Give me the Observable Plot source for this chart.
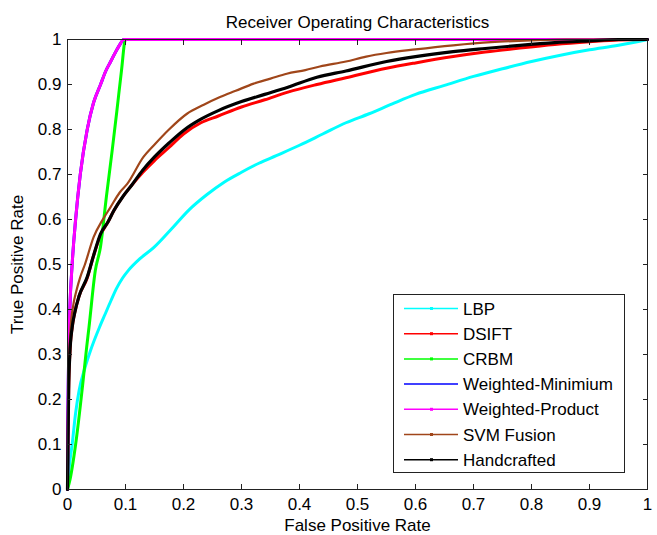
<!DOCTYPE html>
<html><head><meta charset="utf-8">
<script src="https://cdn.jsdelivr.net/npm/d3@7"></script>
<script src="https://cdn.jsdelivr.net/npm/@observablehq/plot@0.6"></script>
<style>
body{margin:0;background:#fff;}
#wrap{position:relative;width:657px;height:535px;font-family:"Liberation Sans",Arial,sans-serif;}
#legend{position:absolute;left:393px;top:294px;width:232px;height:179px;border:1px solid #222;background:#fff;box-sizing:border-box;}
</style></head><body><div id="wrap"></div>
<script>
const chartTitle = "Receiver Operating Characteristics";
const xLabel = "False Positive Rate";
const yLabel = "True Positive Rate";
const xTicks = [0, 0.1, 0.2, 0.3, 0.4, 0.5, 0.6, 0.7, 0.8, 0.9, 1];
const yTicks = [0, 0.1, 0.2, 0.3, 0.4, 0.5, 0.6, 0.7, 0.8, 0.9, 1];
const seriesNames = ["LBP", "DSIFT", "CRBM", "Weighted-Minimium", "Weighted-Product", "SVM Fusion", "Handcrafted"];
const seriesColors = ["#00ffff", "#ff0000", "#00ff00", "#0000ff", "#ff00ff", "#a0461a", "#000000"];

const lbpFpr = [0, 0.003, 0.008, 0.014, 0.02, 0.03, 0.04, 0.055, 0.065, 0.075, 0.085, 0.095, 0.105, 0.125, 0.149, 0.18, 0.21, 0.24, 0.27, 0.3, 0.33, 0.36, 0.4, 0.44, 0.48, 0.52, 0.56, 0.6, 0.65, 0.7, 0.75, 0.8, 0.85, 0.9, 0.95, 1.0];
const lbpTpr = [0, 0.05, 0.1, 0.17, 0.22, 0.27, 0.31, 0.36, 0.39, 0.42, 0.448, 0.47, 0.487, 0.513, 0.538, 0.58, 0.622, 0.655, 0.683, 0.705, 0.725, 0.742, 0.765, 0.79, 0.815, 0.835, 0.857, 0.878, 0.898, 0.918, 0.935, 0.951, 0.965, 0.977, 0.987, 1.0];

const dsiftFpr = [0, 0.001, 0.002, 0.004, 0.008, 0.012, 0.02, 0.034, 0.045, 0.057, 0.07, 0.08, 0.095, 0.11, 0.13, 0.15, 0.175, 0.2, 0.23, 0.26, 0.3, 0.34, 0.38, 0.43, 0.48, 0.55, 0.6, 0.665, 0.72, 0.78, 0.84, 0.9, 0.95, 1];
const dsiftTpr = [0, 0.12, 0.22, 0.3, 0.36, 0.39, 0.43, 0.47, 0.52, 0.565, 0.595, 0.62, 0.65, 0.675, 0.705, 0.731, 0.76, 0.79, 0.815, 0.83, 0.85, 0.866, 0.883, 0.9, 0.915, 0.936, 0.948, 0.962, 0.972, 0.981, 0.989, 0.995, 0.999, 1];

const crbmFpr = [0, 0.004, 0.014, 0.026, 0.033, 0.037, 0.048, 0.057, 0.067, 0.077, 0.085, 0.093, 0.1, 1];
const crbmTpr = [0, 0.02, 0.1, 0.231, 0.316, 0.36, 0.487, 0.54, 0.65, 0.753, 0.84, 0.93, 1, 1];

const wminFpr = [0, 0.0005, 0.001, 0.002, 0.004, 0.008, 0.014, 0.022, 0.034, 0.045, 0.057, 0.066, 0.074, 0.082, 0.09, 0.097, 1];
const wminTpr = [0, 0.12, 0.2, 0.3, 0.4, 0.5, 0.6, 0.7, 0.8, 0.86, 0.9, 0.93, 0.95, 0.97, 0.988, 1, 1];

const wprodFpr = [0, 0.0005, 0.001, 0.002, 0.004, 0.008, 0.014, 0.022, 0.034, 0.045, 0.057, 0.066, 0.074, 0.082, 0.09, 0.097, 1];
const wprodTpr = [0, 0.12, 0.2, 0.3, 0.4, 0.5, 0.6, 0.7, 0.8, 0.86, 0.9, 0.93, 0.95, 0.97, 0.988, 1, 1];

const svmFpr = [0, 0.001, 0.002, 0.005, 0.01, 0.015, 0.022, 0.03, 0.045, 0.06, 0.074, 0.09, 0.103, 0.131, 0.149, 0.175, 0.206, 0.235, 0.263, 0.29, 0.321, 0.35, 0.378, 0.41, 0.435, 0.48, 0.515, 0.55, 0.6, 0.665, 0.73, 0.8, 0.86, 1];
const svmTpr = [0, 0.15, 0.25, 0.353, 0.41, 0.44, 0.472, 0.5, 0.561, 0.598, 0.627, 0.66, 0.679, 0.739, 0.765, 0.8, 0.835, 0.855, 0.872, 0.886, 0.902, 0.913, 0.924, 0.932, 0.94, 0.951, 0.962, 0.97, 0.978, 0.987, 0.994, 0.998, 1, 1];

const handFpr = [0, 0.001, 0.002, 0.004, 0.008, 0.012, 0.02, 0.034, 0.045, 0.057, 0.07, 0.08, 0.095, 0.11, 0.13, 0.15, 0.175, 0.2, 0.23, 0.26, 0.3, 0.34, 0.38, 0.43, 0.48, 0.55, 0.6, 0.665, 0.72, 0.78, 0.84, 0.9, 0.95, 1];
const handTpr = [0, 0.12, 0.22, 0.3, 0.36, 0.39, 0.43, 0.472, 0.52, 0.568, 0.595, 0.62, 0.65, 0.675, 0.71, 0.739, 0.77, 0.798, 0.823, 0.842, 0.862, 0.878, 0.894, 0.916, 0.93, 0.951, 0.962, 0.973, 0.98, 0.987, 0.993, 0.997, 1, 1];

const seriesFpr = [lbpFpr, dsiftFpr, crbmFpr, wminFpr, wprodFpr, svmFpr, handFpr];
const seriesTpr = [lbpTpr, dsiftTpr, crbmTpr, wminTpr, wprodTpr, svmTpr, handTpr];
const seriesWidth = [3, 3, 3, 3, 3, 2.2, 3.2];

const fmt = d => String(+d.toFixed(1));
const FONT = 17;

const lineMarks = seriesNames.map((name, i) => {
  const rows = seriesFpr[i].map((x, j) => ({series: name, fpr: x, tpr: seriesTpr[i][j]}));
  return Plot.line(rows, {x: "fpr", y: "tpr", stroke: seriesColors[i], strokeWidth: seriesWidth[i], curve: "monotone-x"});
});

const chart = Plot.plot({
  width: 657,
  height: 535,
  marginTop: 39,
  marginBottom: 46,
  marginLeft: 67,
  marginRight: 10,
  style: {fontFamily: '"Liberation Sans", Arial, sans-serif', fontSize: FONT + "px", color: "#000", background: "#fff"},
  x: {domain: [0, 1]},
  y: {domain: [0, 1]},
  marks: [
    ...lineMarks,
    Plot.axisX(xTicks, {anchor: "bottom", tickSize: -5, tickPadding: 13, tickFormat: fmt, fontSize: FONT, label: xLabel, labelAnchor: "center", labelOffset: 41, labelArrow: "none", stroke: "#222"}),
    Plot.axisX(xTicks, {anchor: "top", tickSize: -5, tickFormat: () => "", label: null, stroke: "#222"}),
    Plot.axisY(yTicks, {anchor: "left", tickSize: -5, tickPadding: 11, tickFormat: fmt, fontSize: FONT, label: yLabel, labelAnchor: "center", labelOffset: 57, labelArrow: "none", stroke: "#222"}),
    Plot.axisY(yTicks, {anchor: "right", tickSize: -5, tickFormat: () => "", label: null, stroke: "#222"}),
    Plot.frame({stroke: "#222"}),
    Plot.text([chartTitle], {frameAnchor: "top", dy: -24, fontSize: FONT, fill: "#000"})
  ]
});

const wrap = document.getElementById("wrap");
wrap.appendChild(chart);

// legend overlay
const legend = document.createElement("div");
legend.id = "legend";
wrap.appendChild(legend);
const lsvg = d3.select(legend).append("svg").attr("width", 230).attr("height", 177)
  .style("font-family", '"Liberation Sans", Arial, sans-serif').style("font-size", FONT + "px");
seriesNames.forEach((name, i) => {
  const cy = 13.5 + i * 25.2;
  const g = lsvg.append("g");
  g.append("line").attr("x1", 10).attr("x2", 64).attr("y1", cy).attr("y2", cy)
    .attr("stroke", seriesColors[i]).attr("stroke-width", 1.5);
  if (i !== 3) {
    g.append("rect").attr("x", 36).attr("y", cy - 1.5).attr("width", 3).attr("height", 3).attr("fill", seriesColors[i]);
  }
  g.append("text").attr("x", 69).attr("y", cy).attr("dy", "0.36em").attr("fill", "#000").text(name);
});
</script>
</body></html>
